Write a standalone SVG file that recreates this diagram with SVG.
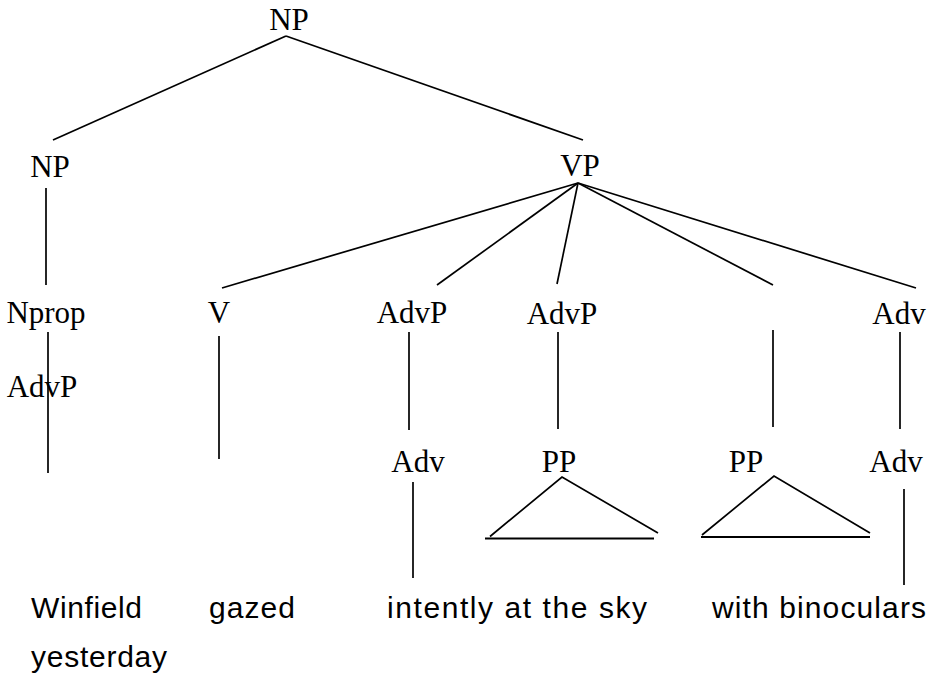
<svg xmlns="http://www.w3.org/2000/svg" width="927" height="684" viewBox="0 0 927 684">
<style>
.s{font-family:"Liberation Serif","Times New Roman",serif;font-size:31px;fill:#000;text-anchor:middle}
.w{font-family:"Liberation Sans",Arial,sans-serif;font-size:30px;fill:#000}
.c line,.c polyline{stroke:#000;stroke-width:1.7;fill:none}
</style>
<rect width="927" height="684" fill="#fff"/>
<g id="n-np-top"><text class="s" x="289" y="30">NP</text></g>
<g id="n-np"><text class="s" x="50" y="177">NP</text></g>
<g id="n-vp"><text class="s" x="580" y="176">VP</text></g>
<g id="n-nprop"><text class="s" x="46" y="323">Nprop</text></g>
<g id="n-advp0"><text class="s" x="42" y="397">AdvP</text></g>
<g id="n-v"><text class="s" x="219" y="323">V</text></g>
<g id="n-advp1"><text class="s" x="412" y="323">AdvP</text></g>
<g id="n-advp2"><text class="s" x="562" y="324">AdvP</text></g>
<g id="n-adv-r"><text class="s" x="899" y="324">Adv</text></g>
<g id="n-adv1"><text class="s" x="418" y="472">Adv</text></g>
<g id="n-pp1"><text class="s" x="559" y="472">PP</text></g>
<g id="n-pp2"><text class="s" x="746" y="472">PP</text></g>
<g id="n-adv2"><text class="s" x="896" y="472">Adv</text></g>
<g id="w-winfield"><text class="w" x="31" y="618" textLength="111" lengthAdjust="spacing">Winfield</text></g>
<g id="w-yesterday"><text class="w" x="31" y="667" textLength="136" lengthAdjust="spacing">yesterday</text></g>
<g id="w-gazed"><text class="w" x="209" y="618" textLength="86" lengthAdjust="spacing">gazed</text></g>
<g id="w-intently"><text class="w" x="387" y="618" textLength="260" lengthAdjust="spacing">intently at the sky</text></g>
<g id="w-with"><text class="w" x="712" y="618" textLength="214" lengthAdjust="spacing">with binoculars</text></g>
<g id="connectors" class="c">
<line x1="286" y1="36" x2="53" y2="140"/>
<line x1="286" y1="36" x2="583" y2="140"/>
<line x1="46" y1="188" x2="46" y2="285"/>
<line x1="578" y1="183" x2="222" y2="288"/>
<line x1="578" y1="183" x2="437" y2="285"/>
<line x1="578" y1="183" x2="557" y2="284"/>
<line x1="578" y1="183" x2="773" y2="285"/>
<line x1="578" y1="183" x2="916" y2="288"/>
<line x1="48" y1="332" x2="48" y2="473"/>
<line x1="219" y1="336" x2="219" y2="459"/>
<line x1="409" y1="332" x2="409" y2="430"/>
<line x1="558" y1="332" x2="558" y2="429"/>
<line x1="773" y1="330" x2="773" y2="427"/>
<line x1="900" y1="332" x2="900" y2="429"/>
<line x1="413" y1="482" x2="413" y2="578"/>
<line x1="904" y1="489" x2="904" y2="585"/>
<polyline points="490,536.5 562,477 658,533"/>
<line x1="485" y1="538.5" x2="654" y2="538.5" style="stroke-width:2.2"/>
<polyline points="702,535 774,476 870,533"/>
<line x1="701" y1="537" x2="870" y2="537" style="stroke-width:2.2"/>
</g>
</svg>
